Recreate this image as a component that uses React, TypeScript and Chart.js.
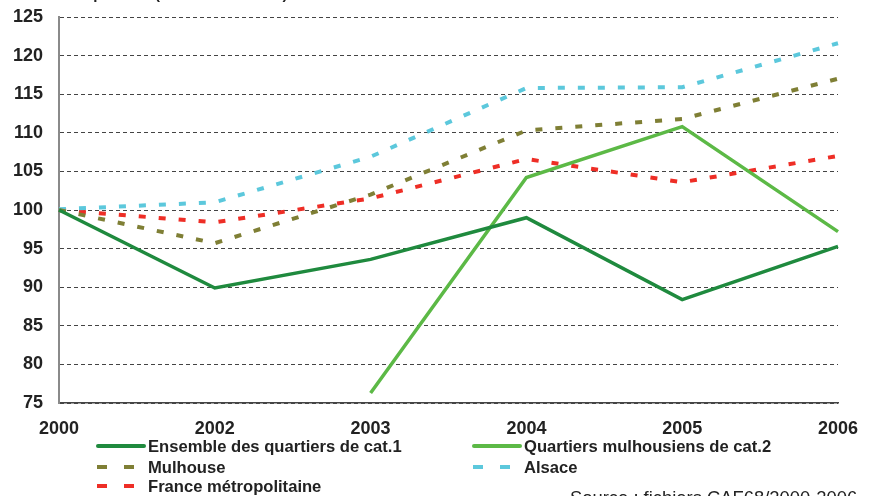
import React, { useEffect, useRef } from "react";
import { Chart, registerables } from "chart.js";

Chart.register(...registerables);

const years = ["2000", "2002", "2003", "2004", "2005", "2006"];
const cat1 = [100, 89.9, 93.6, 99.0, 88.4, 95.3];
const cat2 = [null, null, 76.3, 104.2, 110.8, 97.2];
const mulhouse = [100, 95.7, 102.0, 110.3, 111.8, 117.0];
const alsace = [100.1, 101.0, 106.9, 115.8, 115.9, 121.6];
const france = [100, 98.4, 101.5, 106.6, 103.6, 107.0];

const seriesNames = [
  "Ensemble des quartiers de cat.1",
  "Quartiers mulhousiens de cat.2",
  "Mulhouse",
  "Alsace",
  "France métropolitaine",
];
const titleText = "Allocataires pauvres (base 100 en 2000) : évolution 2000-2006";
const sourceText = "Source : fichiers CAF68/2000-2006";

const FONT = "'Liberation Sans', Arial, sans-serif";

const legendPlugin = {
  id: "customLegend",
  afterDraw(chart: any) {
    const ctx = chart.ctx;
    ctx.save();
    const cols = [{ sx: 97, tx: 148 }, { sx: 473, tx: 524 }];
    const rows = [446, 467, 486];
    const pos = [
      [0, 0],
      [1, 0],
      [0, 1],
      [1, 1],
      [0, 2],
    ];
    chart.data.datasets.forEach((ds: any, i: number) => {
      const [c, r] = pos[i];
      const col = cols[c];
      const y = rows[r];
      ctx.strokeStyle = ds.borderColor;
      ctx.lineWidth = 4;
      if (ds.borderDash && ds.borderDash.length) {
        ctx.lineCap = "butt";
        ctx.beginPath();
        ctx.moveTo(col.sx, y);
        ctx.lineTo(col.sx + 10, y);
        ctx.moveTo(col.sx + 27, y);
        ctx.lineTo(col.sx + 37, y);
        ctx.stroke();
      } else {
        ctx.lineCap = "round";
        ctx.beginPath();
        ctx.moveTo(col.sx + 1, y);
        ctx.lineTo(col.sx + 47, y);
        ctx.stroke();
      }
      ctx.fillStyle = "#222";
      ctx.font = "bold 16.6px " + FONT;
      ctx.textAlign = "left";
      ctx.textBaseline = "middle";
      ctx.fillText(ds.label, col.tx, y + 1);
    });
    // title (mostly cut off at the top)
    ctx.fillStyle = "#222";
    ctx.font = "bold 15px " + FONT;
    ctx.textAlign = "left";
    ctx.textBaseline = "alphabetic";
    ctx.fillText(titleText, 4, -1);
    // source (cut off at the bottom)
    ctx.font = "18.4px " + FONT;
    ctx.textBaseline = "top";
    ctx.fillText(sourceText, 570, 490);
    ctx.restore();
  },
};

export default function App() {
  const ref = useRef<HTMLCanvasElement | null>(null);
  useEffect(() => {
    if (!ref.current) return;
    const dashed = [7, 13];
    const chart = new Chart(ref.current, {
      type: "line",
      data: {
        labels: years,
        datasets: [
          { label: seriesNames[0], data: cat1, borderColor: "#1f8a3e", borderWidth: 3.5, pointRadius: 0, tension: 0 },
          { label: seriesNames[1], data: cat2, borderColor: "#5cb946", borderWidth: 3.5, pointRadius: 0, tension: 0 },
          { label: seriesNames[2], data: mulhouse, borderColor: "#7f7f35", borderWidth: 4, borderDash: dashed, pointRadius: 0, tension: 0 },
          { label: seriesNames[3], data: alsace, borderColor: "#5cc8dc", borderWidth: 4, borderDash: dashed, pointRadius: 0, tension: 0 },
          { label: seriesNames[4], data: france, borderColor: "#ee2e26", borderWidth: 4, borderDash: dashed, pointRadius: 0, tension: 0 },
        ] as any,
      },
      options: {
        animation: false,
        responsive: false,
        maintainAspectRatio: false,
        layout: { padding: { left: 0, top: 17, right: 34, bottom: 0 } },
        plugins: { legend: { display: false }, tooltip: { enabled: false }, title: { display: false } },
        scales: {
          x: {
            offset: false,
            grid: { color: "rgba(0,0,0,0)", drawTicks: false },
            border: { display: true, color: "#444", width: 1.5 },
            ticks: { color: "#222", font: { family: FONT, size: 18, weight: "bold" }, padding: 15, maxRotation: 0, autoSkip: false },
            afterFit: (s: any) => {
              s.height = 93;
              s.paddingLeft = 0;
              s.paddingRight = 0;
            },
          },
          y: {
            min: 75,
            max: 125,
            ticks: { stepSize: 5, color: "#222", font: { family: FONT, size: 18, weight: "bold" }, padding: 16 },
            grid: { color: "#444", lineWidth: 1, drawTicks: false },
            border: { display: true, color: "#8a8a8a", width: 2, dash: [4, 3] },
            afterFit: (s: any) => {
              s.width = 59;
              s.paddingTop = 0;
              s.paddingBottom = 0;
            },
          },
        },
      } as any,
      plugins: [legendPlugin],
    });
    return () => chart.destroy();
  }, []);
  return (
    <div style={{ position: "fixed", left: 0, top: 0, width: 872, height: 496, background: "#fff" }}>
      <canvas ref={ref} width={872} height={496} style={{ width: 872, height: 496, display: "block" }} />
    </div>
  );
}
